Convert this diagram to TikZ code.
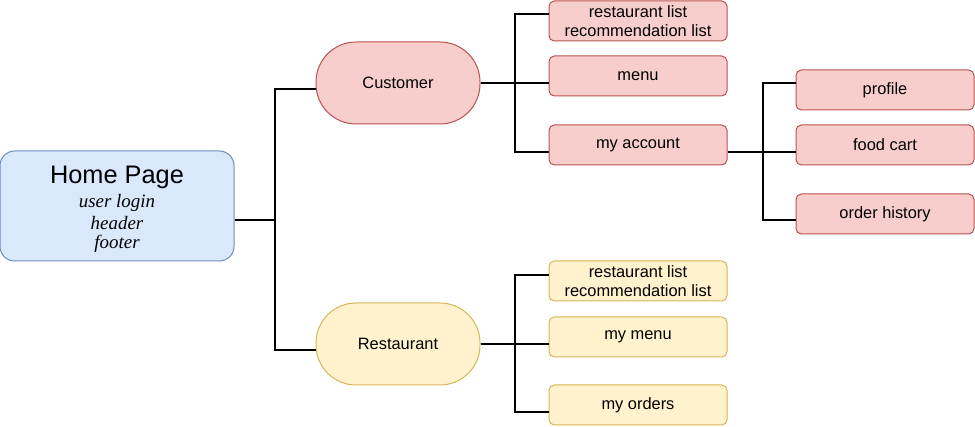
\documentclass[tikz,border=0pt]{standalone}
\usepackage{fontspec}
\setmainfont{Liberation Sans}
\newfontfamily\notefont{Liberation Serif}
\usepackage{tikz}
\usepackage{xcolor}

\definecolor{redfill}{HTML}{F8CECC}
\definecolor{redline}{HTML}{B85450}
\definecolor{yelfill}{HTML}{FFF2CC}
\definecolor{yelline}{HTML}{D6B656}
\definecolor{bluefill}{HTML}{DAE8FC}
\definecolor{blueline}{HTML}{6C8EBF}

\newcommand{\notetext}{\notefont\itshape\fontsize{14.2}{15.75}\selectfont}

\tikzset{
  wire/.style={line width=1.5pt},
  homebox/.style={draw=blueline,fill=bluefill,rounded corners=11pt,line width=0.75pt,
    minimum width=175.5pt,minimum height=82.5pt,align=center,inner sep=1pt},
  rolebox/.style={draw=#1line,fill=#1fill,rounded corners=30pt,line width=0.75pt,
    minimum width=123pt,minimum height=61.5pt,font=\fontsize{12.3}{14}\selectfont},
  pagebox/.style={draw=#1line,fill=#1fill,rounded corners=4pt,line width=0.75pt,
    minimum width=133.5pt,minimum height=30pt,align=center,inner sep=1pt,
    font=\fontsize{12.3}{14.25}\selectfont}
}

\begin{document}
\begin{tikzpicture}[x=0.75pt,y=-0.75pt]
  \useasboundingbox (0,0) rectangle (975,427);

  \node[homebox] (home) at (117,206)
    {\fontsize{19}{17}\selectfont\rule{0pt}{18pt}Home Page\\[3pt]
     \notetext user login\\[2.5pt] \notetext header\\[2.5pt] \notetext footer};

  \node[rolebox=red] (cust) at (398,83) {Customer};
  \node[rolebox=yel] (rest) at (398,344) {Restaurant};

  \node[pagebox=red] (clist) at (638,21) {restaurant list\\recommendation list};
  \node[pagebox=red] (cmenu) at (638,76) {menu};
  \node[pagebox=red] (cacct) at (638,145) {my account};

  \node[pagebox=red] (prof) at (885,90) {profile};
  \node[pagebox=red] (cart) at (885,145) {food cart};
  \node[pagebox=red] (hist) at (885,214) {order history};

  \node[pagebox=yel] (rlist) at (638,281) {restaurant list\\recommendation list};
  \node[pagebox=yel] (rmenu) at (638,337) {my menu};
  \node[pagebox=yel] (rord) at (638,405) {my orders};

  % tree connectors
  \foreach \kid in {cust,rest}
    \draw[wire] ([shift={(0,14)}]home.east) -- ++(40,0) |- ([shift={(0,6)}]\kid.west);
  \foreach \kid/\dy in {clist/-7,cmenu/7,cacct/7}
    \draw[wire] (cust.east) -- ++(34,0) |- ([shift={(0,\dy)}]\kid.west);
  \foreach \kid/\dy in {rlist/-6,rmenu/7,rord/7}
    \draw[wire] (rest.east) -- ++(34,0) |- ([shift={(0,\dy)}]\kid.west);
  \foreach \kid/\dy in {prof/-7,cart/7,hist/6}
    \draw[wire] ([shift={(0,7)}]cacct.east) -- ++(35,0) |- ([shift={(0,\dy)}]\kid.west);
\end{tikzpicture}
\end{document}
